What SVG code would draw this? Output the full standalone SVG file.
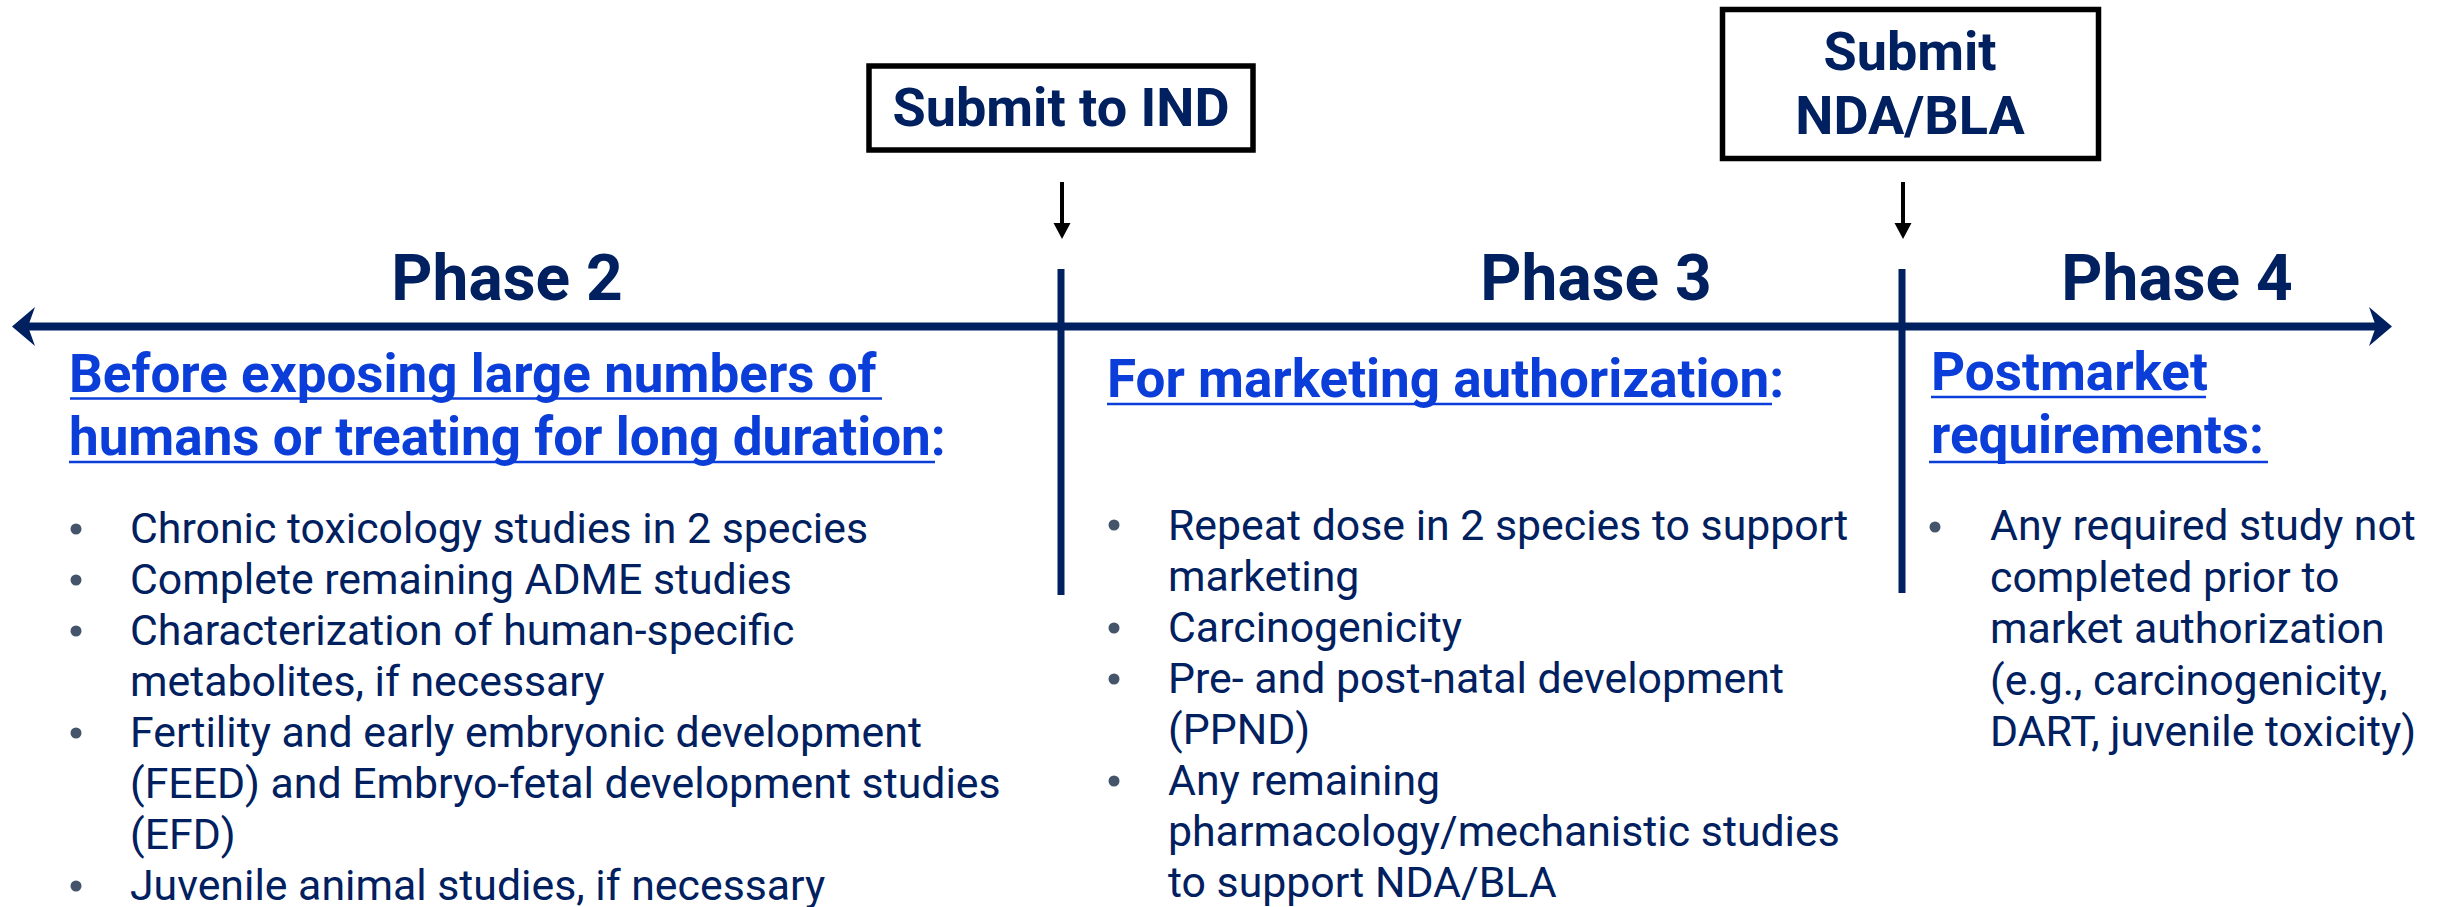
<svg xmlns="http://www.w3.org/2000/svg" width="2438" height="907" viewBox="0 0 2438 907">
<style>
.bg{fill:#ffffff}
.box{fill:#ffffff;stroke:#000000;stroke-width:5.5}
.bt{font-family:Roboto,"Liberation Sans",sans-serif;font-weight:700;font-size:54px;fill:#002060;text-anchor:middle}
.ph{font-family:Roboto,"Liberation Sans",sans-serif;font-weight:700;font-size:64px;fill:#002060;text-anchor:middle}
.hd{font-family:Roboto,"Liberation Sans",sans-serif;font-weight:700;font-size:53px;fill:#0B3DD8}
.ul{stroke:#0B3DD8;stroke-width:2.5}
.tx{font-family:Roboto,"Liberation Sans",sans-serif;font-size:42.8px;fill:#002060}
.bu{fill:#44546A}
.axis{stroke:#002060;stroke-width:8}
.div{stroke:#002060;stroke-width:7}
.ar{stroke:#000000;stroke-width:4}
.ahd{fill:#002060}
.ahk{fill:#000000}
</style>
<rect class="bg" x="0" y="0" width="2438" height="907"/>
<g id="connectors">
<line class="axis" x1="26" y1="326.5" x2="2378" y2="326.5"/>
<path class="ahd" d="M12,326.5 L35,307 L28,326.5 L35,346 Z"/>
<path class="ahd" d="M2392,326.5 L2369,307 L2376,326.5 L2369,346 Z"/>
<line class="div" x1="1061" y1="269" x2="1061" y2="595"/>
<line class="div" x1="1902" y1="269" x2="1902" y2="593"/>
<line class="ar" x1="1062" y1="182" x2="1062" y2="226"/>
<path class="ahk" d="M1053.5,223 L1070.5,223 L1062,239 Z"/>
<line class="ar" x1="1903" y1="182" x2="1903" y2="226"/>
<path class="ahk" d="M1894.5,223 L1911.5,223 L1903,239 Z"/>
</g>
<g id="submit-ind">
<rect class="box" x="869" y="66" width="384" height="84"/>
<text class="bt" x="1061" y="126">Submit to IND</text>
</g>
<g id="submit-nda">
<rect class="box" x="1722.5" y="9.5" width="376" height="149"/>
<text class="bt" x="1910" y="70">Submit</text>
<text class="bt" x="1910" y="134">NDA/BLA</text>
</g>
<g id="phase2">
<text class="ph" x="507" y="300">Phase 2</text>
<text class="hd" x="69" y="392">Before exposing large numbers of</text>
<line class="ul" x1="70" y1="398.5" x2="882" y2="398.5"/>
<text class="hd" x="69" y="455">humans or treating for long duration:</text>
<line class="ul" x1="69" y1="462" x2="935" y2="462"/>
<circle class="bu" cx="76" cy="529" r="5.5"/>
<circle class="bu" cx="76" cy="580" r="5.5"/>
<circle class="bu" cx="76" cy="631" r="5.5"/>
<circle class="bu" cx="76" cy="733" r="5.5"/>
<circle class="bu" cx="76" cy="886" r="5.5"/>
<text class="tx" x="130" y="543">Chronic toxicology studies in 2 species</text>
<text class="tx" x="130" y="594">Complete remaining ADME studies</text>
<text class="tx" x="130" y="645">Characterization of human-specific</text>
<text class="tx" x="130" y="696">metabolites, if necessary</text>
<text class="tx" x="130" y="747">Fertility and early embryonic development</text>
<text class="tx" x="130" y="798">(FEED) and Embryo-fetal development studies</text>
<text class="tx" x="130" y="849">(EFD)</text>
<text class="tx" x="130" y="900">Juvenile animal studies, if necessary</text>
</g>
<g id="phase3">
<text class="ph" x="1596" y="300">Phase 3</text>
<text class="hd" x="1107" y="397">For marketing authorization:</text>
<line class="ul" x1="1107" y1="404" x2="1772" y2="404"/>
<circle class="bu" cx="1114" cy="525" r="5.5"/>
<circle class="bu" cx="1114" cy="628" r="5.5"/>
<circle class="bu" cx="1114" cy="679" r="5.5"/>
<circle class="bu" cx="1114" cy="781" r="5.5"/>
<text class="tx" x="1168" y="540">Repeat dose in 2 species to support</text>
<text class="tx" x="1168" y="591">marketing</text>
<text class="tx" x="1168" y="642">Carcinogenicity</text>
<text class="tx" x="1168" y="693">Pre- and post-natal development</text>
<text class="tx" x="1168" y="744">(PPND)</text>
<text class="tx" x="1168" y="795">Any remaining</text>
<text class="tx" x="1168" y="846">pharmacology/mechanistic studies</text>
<text class="tx" x="1168" y="897">to support NDA/BLA</text>
</g>
<g id="phase4">
<text class="ph" x="2177" y="300">Phase 4</text>
<text class="hd" x="1931" y="390">Postmarket</text>
<line class="ul" x1="1931" y1="397" x2="2206" y2="397"/>
<text class="hd" x="1931" y="453">requirements:</text>
<line class="ul" x1="1929" y1="462" x2="2268" y2="462"/>
<circle class="bu" cx="1935" cy="527" r="5.5"/>
<text class="tx" x="1990" y="540">Any required study not</text>
<text class="tx" x="1990" y="592">completed prior to</text>
<text class="tx" x="1990" y="643">market authorization</text>
<text class="tx" x="1990" y="695">(e.g., carcinogenicity,</text>
<text class="tx" x="1990" y="746">DART, juvenile toxicity)</text>
</g>
</svg>
